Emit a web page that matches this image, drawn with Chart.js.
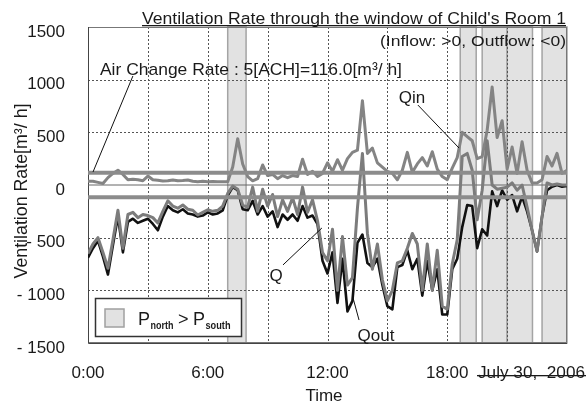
<!DOCTYPE html>
<html>
<head>
<meta charset="utf-8">
<script src="https://cdn.jsdelivr.net/npm/chart.js@4.4.1/dist/chart.umd.min.js"></script>
<style>
  body { margin: 0; background: #fff; }
  canvas { display: block; }
</style>
</head>
<body>
<canvas id="chart" width="586" height="404"></canvas>
<script>
const FONT = '"Liberation Sans", Arial, sans-serif';
const STEP_H = 0.25; // 15 min samples, 0:00 .. 24:00

// ventilation rates [m3/h]
const qin = [
  35, 35, 25, 15, 70, 110, 140, 100, 50, 55, 50, 40,
  85, 50, 45, 38, 40, 48, 40, 42, 48, 35, 32, 35,
  32, 33, 30, 32, 30, 170, 440, 200, 80, 40, 60, 190,
  90, 100, 60, 90, 70, 90, 80, 245, 100, 130, 80, 110,
  210, 130, 240, 140, 250, 310, 330, 800, 300, 350, 210, 170,
  130, 110, 50, 140, 310, 120, 200, 260, 180, 316, 150, 80,
  50, 160, 260, 500, 460, 420, 250, 270, 520, 930, 450, 610,
  150, 360, 110, 410, 140, 20, 20, 50, 270, 180, 300, 110,
  140
];
const qout = [
  -650, -560, -500, -640, -790, -520, -240, -600, -280, -260, -310, -280,
  -290, -310, -360, -250, -150, -200, -220, -190, -230, -240, -285, -260,
  -235, -250, -240, -200, -80, -10, -40, -190, -210, -20, -250, -40,
  -200, -90, -300, -140, -250, -120, -280, -20, -260, -140, -340, -640,
  -720, -420, -1000, -490, -950, -880, -220, 300, -460, -800, -560, -900,
  -1100, -1000, -740, -720, -600, -460, -560, -1000, -560, -1000, -620, -1150,
  -1180, -750, -520, 270, 300, 140, -330, -50, 420, 0, -40, -30,
  -20, 20, -50, 0, -210, -430, -630, -300, 20, 0, 10, 0,
  0
];
const qnet = [
  -690, -600, -530, -680, -850, -570, -300, -640, -350, -320, -360, -340,
  -320, -370, -430, -300, -200, -240, -260, -230, -270, -280, -300, -290,
  -260, -280, -270, -240, -100, -20, -50, -230, -240, -150, -280, -200,
  -300, -250, -400, -280, -330, -280, -340, -200, -310, -290, -370, -720,
  -840, -640, -1120, -700, -1200, -1100, -550, -470, -740, -780, -700, -950,
  -1150, -1180, -780, -760, -620, -800, -700, -1050, -720, -1000, -800, -1230,
  -1230, -800, -700, -400, -190, -200, -600, -420, -480, -60, -200, -50,
  -140, -95, -250, -110, -250, -430, -630, -300, -50, -16, 0, -16,
  -10
];
const achRate = 116.0; // 5 ACH

// periods with P_north > P_south [h]
const shadeFrom = [7.0, 18.65, 19.75, 21.0, 22.75];
const shadeTo   = [7.92, 19.45, 21.0, 22.27, 24.0];

const xTickHours  = [0, 6, 12, 18];
const xTickLabels = ['0:00', '6:00', '12:00', '18:00'];

// annotation anchors in data units [h, m3/h]
const notes = [
  { text: 'Qin',  at: [16.23, 826],   from: [16.53, 759],   to: [18.59, 351] },
  { text: 'Q',    at: [9.42, -864],   from: [9.77, -759],   to: [11.72, -408] },
  { text: 'Qout', at: [14.43, -1434], from: [13.28, -1073], to: [13.58, -1282] },
];
const achLeader = { from: [2.25, 1035], to: [0.25, 123] };

function series(vals) {
  return vals.map((v, i) => ({ x: i * STEP_H, y: v }));
}
function flat(v) {
  return [{ x: 0, y: v }, { x: 24, y: v }];
}

// draw text stretched to a given width
function fitText(ctx, txt, x, y, w, align) {
  const m = ctx.measureText(txt).width;
  ctx.save();
  ctx.translate(x, y);
  ctx.scale(w / m, 1);
  ctx.textAlign = align;
  ctx.fillText(txt, 0, 0);
  ctx.restore();
}

const decor = {
  id: 'decor',
  beforeDatasetsDraw(chart) {
    const { ctx, chartArea: a, scales: { x, y } } = chart;
    ctx.save();
    // shaded periods
    shadeFrom.forEach((s, i) => {
      const x0 = x.getPixelForValue(s), x1 = x.getPixelForValue(shadeTo[i]);
      ctx.fillStyle = '#e2e2e2';
      ctx.fillRect(x0, a.top, x1 - x0, a.bottom - a.top);
      ctx.strokeStyle = '#a4a4a4';
      ctx.lineWidth = 1.5;
      ctx.strokeRect(x0, a.top, x1 - x0, a.bottom - a.top);
    });
    // dotted grid
    ctx.setLineDash([2, 2]);
    ctx.strokeStyle = '#555';
    ctx.lineWidth = 1;
    x.ticks.forEach(t => {
      if (t.value <= 0 || t.value >= 24) return;
      const px = Math.round(x.getPixelForValue(t.value)) + 0.5;
      ctx.beginPath(); ctx.moveTo(px, a.top); ctx.lineTo(px, a.bottom); ctx.stroke();
    });
    y.ticks.forEach(t => {
      if (t.value <= -1500 || t.value >= 1500 || t.value === 0) return;
      const py = Math.round(y.getPixelForValue(t.value)) + 0.5;
      ctx.beginPath(); ctx.moveTo(a.left, py); ctx.lineTo(a.right, py); ctx.stroke();
    });
    ctx.setLineDash([]);
    // frame
    ctx.strokeStyle = '#777';
    ctx.strokeRect(a.left + 0.5, a.top + 0.5, a.right - a.left - 1, a.bottom - a.top - 1);
    ctx.strokeStyle = '#444';
    ctx.beginPath();
    ctx.moveTo(a.left + 0.5, a.top); ctx.lineTo(a.left + 0.5, a.bottom + 0.5);
    ctx.lineTo(a.right, a.bottom + 0.5);
    ctx.stroke();
    ctx.restore();
  },
  afterDraw(chart) {
    const { ctx, scales: { x, y } } = chart;
    const P = p => [x.getPixelForValue(p[0]), y.getPixelForValue(p[1])];
    ctx.save();
    ctx.fillStyle = '#1a1a1a';
    ctx.textBaseline = 'alphabetic';

    // titles
    ctx.font = '16px ' + FONT;
    fitText(ctx, "Ventilation Rate through the window of Child's Room 1", 566, 24, 424, 'right');
    ctx.fillRect(142, 25, 424, 1.3);
    ctx.font = '15.5px ' + FONT;
    fitText(ctx, '(Inflow: >0, Outflow: <0)', 566, 46, 186, 'right');

    // air change rate label + leader
    ctx.font = '17px ' + FONT;
    const ax = P([0.6, 1044]);
    fitText(ctx, 'Air Change Rate : 5[ACH]=' + achRate.toFixed(1) + '[m\u00b3/ h]', ax[0], ax[1], 302, 'left');
    ctx.strokeStyle = '#111';
    ctx.lineWidth = 1;
    let a0 = P(achLeader.from), a1 = P(achLeader.to);
    ctx.beginPath(); ctx.moveTo(a0[0], a0[1]); ctx.lineTo(a1[0], a1[1]); ctx.stroke();

    // series labels
    ctx.font = '17px ' + FONT;
    ctx.textAlign = 'center';
    ctx.textBaseline = 'middle';
    notes.forEach(n => {
      const c = P(n.at), f = P(n.from), t = P(n.to);
      ctx.fillText(n.text, c[0], c[1]);
      ctx.beginPath(); ctx.moveTo(f[0], f[1]); ctx.lineTo(t[0], t[1]); ctx.stroke();
    });

    // axis titles
    ctx.textBaseline = 'alphabetic';
    ctx.font = '17px ' + FONT;
    ctx.fillText('Time', 324, 401);
    ctx.save();
    ctx.translate(27, 191);
    ctx.rotate(-Math.PI / 2);
    ctx.font = '17.5px ' + FONT;
    fitText(ctx, 'Ventilation Rate[m\u00b3/ h]', 0, 0, 175, 'center');
    ctx.restore();

    // date
    ctx.font = '17px ' + FONT;
    fitText(ctx, 'July 30,  2006', 478, 378, 107, 'left');
    ctx.fillRect(477, 375, 109, 1.3);

    // legend
    ctx.fillStyle = '#fff';
    ctx.fillRect(95, 298, 146, 38);
    ctx.strokeStyle = '#333';
    ctx.lineWidth = 1.5;
    ctx.strokeRect(95.5, 298.5, 146, 38);
    ctx.fillStyle = '#e2e2e2';
    ctx.fillRect(105, 309, 19, 18);
    ctx.strokeStyle = '#a0a0a0';
    ctx.strokeRect(105, 309, 19, 18);
    ctx.fillStyle = '#1a1a1a';
    ctx.textAlign = 'left';
    ctx.font = '18px ' + FONT;
    ctx.fillText('P', 138, 325);
    ctx.fillText('>', 178, 325);
    ctx.fillText('P', 193, 325);
    ctx.font = 'bold 10px ' + FONT;
    fitText(ctx, 'north', 150.5, 329, 23, 'left');
    fitText(ctx, 'south', 205.5, 329, 25, 'left');
    ctx.restore();
  }
};

new Chart(document.getElementById('chart'), {
  type: 'line',
  data: {
    datasets: [
      { data: flat(achRate),  borderColor: '#8c8c8c', borderWidth: 4, order: 0 },
      { data: flat(-achRate), borderColor: '#8c8c8c', borderWidth: 4, order: 0 },
      { label: 'Qout', data: series(qout), borderColor: '#7c7c7c', borderWidth: 3, order: 1 },
      { label: 'Q',    data: series(qnet), borderColor: '#111', borderWidth: 2.6, order: 2 },
      { label: 'Qin',  data: series(qin),  borderColor: '#848484', borderWidth: 3, order: 3 },
      { data: flat(0), borderColor: '#666', borderWidth: 1, order: 4 },
    ]
  },
  options: {
    responsive: false,
    animation: false,
    devicePixelRatio: 1,
    layout: { padding: { top: 27, right: 19, left: 0, bottom: 0 } },
    elements: {
      point: { radius: 0 },
      line: { tension: 0, borderJoinStyle: 'round', fill: false }
    },
    plugins: { legend: { display: false }, title: { display: false }, tooltip: { enabled: false } },
    scales: {
      x: {
        type: 'linear', min: 0, max: 24,
        grid: { display: false }, border: { display: false },
        afterFit: s => { s.height = 61; },
        ticks: {
          stepSize: 3, autoSkip: false, maxRotation: 0, padding: 12,
          color: '#1a1a1a', font: { family: FONT, size: 17 },
          callback: v => { const i = xTickHours.indexOf(v); return i < 0 ? '' : xTickLabels[i]; }
        }
      },
      y: {
        min: -1500, max: 1500,
        grid: { display: false }, border: { display: false },
        afterFit: s => { s.width = 88; },
        ticks: {
          stepSize: 500, padding: 15, labelOffset: 5,
          color: '#1a1a1a', font: { family: FONT, size: 17 },
          callback: v => v < 0 ? '- ' + (-v) : String(v)
        }
      }
    }
  },
  plugins: [decor]
});
</script>
</body>
</html>
